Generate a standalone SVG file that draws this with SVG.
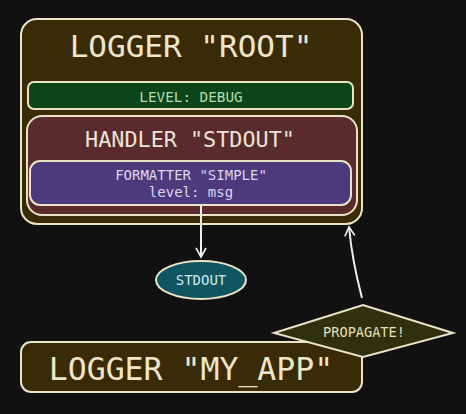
<svg xmlns="http://www.w3.org/2000/svg" width="466" height="414" viewBox="0 0 466 414">
<defs>
<style>
.bx{stroke:#ebe3c6;stroke-width:2}
.t{font-family:"DejaVu Sans Mono","Liberation Mono",monospace;text-anchor:middle}
.con{fill:none;stroke:#f2f0ea;stroke-width:2}
</style>
<marker id="v" viewBox="0 0 12 12" refX="10" refY="6" markerWidth="12" markerHeight="12" markerUnits="userSpaceOnUse" orient="auto">
<path d="M1,1 L10,6 L1,11" fill="none" stroke="#f2f0ea" stroke-width="1.6"/>
</marker>
</defs>
<rect width="466" height="414" fill="#111111"/>
<g id="logger-root">
<rect class="bx" x="21" y="19" width="341" height="205" rx="16" fill="#3a2b08"/>
<text class="t" x="191" y="57" font-size="31" fill="#efe6c9">LOGGER "ROOT"</text>
</g>
<g id="level-debug">
<rect class="bx" x="28" y="82" width="325" height="27" rx="6" fill="#0b4519"/>
<text class="t" x="191" y="102" font-size="14.3" fill="#b5dbb0">LEVEL: DEBUG</text>
</g>
<g id="handler-stdout">
<rect class="bx" x="27" y="116" width="330" height="99" rx="15" fill="#5a2b2c"/>
<text class="t" x="190" y="147" font-size="21.8" fill="#efe2d6">HANDLER "STDOUT"</text>
</g>
<g id="formatter-simple">
<rect class="bx" x="30" y="161" width="321" height="44" rx="10" fill="#4b3a7c"/>
<text class="t" x="191" y="180" font-size="14" fill="#ddd6ee">FORMATTER "SIMPLE"</text>
<text class="t" x="191" y="197" font-size="14" fill="#ddd6ee">level: msg</text>
</g>
<g id="stdout">
<ellipse class="bx" cx="201" cy="280" rx="45" ry="19" fill="#0f5660"/>
<text class="t" x="201" y="285" font-size="14" fill="#cfe6e6">STDOUT</text>
</g>
<g id="logger-my-app">
<rect class="bx" x="21" y="342" width="341" height="50" rx="10" fill="#3a2b08"/>
<text class="t" x="191" y="380" font-size="31.5" fill="#efe6c9">LOGGER "MY_APP"</text>
</g>
<g id="propagate">
<polygon class="bx" points="274,333 363,305 453,333 363,357" fill="#2f300d"/>
<text class="t" x="364" y="337" font-size="13.6" fill="#e6e0b8">PROPAGATE!</text>
</g>
<g id="connectors">
<path class="con" d="M201,205 L201,257" marker-end="url(#v)"/>
<path class="con" d="M362,298 Q352,260 349,227" marker-end="url(#v)"/>
</g>
</svg>
